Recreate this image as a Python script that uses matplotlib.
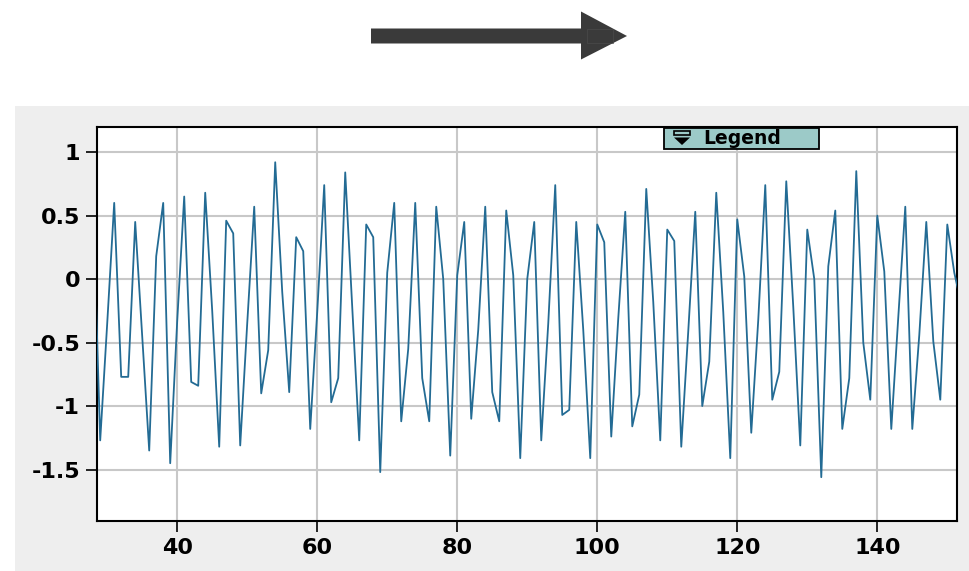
import matplotlib
matplotlib.use("Agg")
import matplotlib.pyplot as plt
from matplotlib.patches import Rectangle, Polygon

x_values = list(range(28, 153))
y_values = [
    0.55, -1.27, -0.35, 0.60, -0.77, -0.77, 0.45, -0.45, -1.35, 0.18,   # 28-37
    0.60, -1.45, -0.33, 0.65, -0.81, -0.84, 0.68, -0.25, -1.32, 0.46,   # 38-47
    0.36, -1.31, -0.35, 0.57, -0.90, -0.56, 0.92, -0.10, -0.89, 0.33,   # 48-57
    0.22, -1.18, -0.26, 0.74, -0.97, -0.78, 0.84, -0.22, -1.27, 0.43,   # 58-67
    0.33, -1.52, 0.05, 0.60, -1.12, -0.55, 0.60, -0.78, -1.12, 0.57,    # 68-77
    0.00, -1.39, 0.03, 0.45, -1.10, -0.40, 0.57, -0.89, -1.12, 0.54,    # 78-87
    0.03, -1.41, 0.00, 0.45, -1.27, -0.35, 0.74, -1.07, -1.03, 0.45,    # 88-97
    -0.40, -1.41, 0.43, 0.29, -1.24, -0.31, 0.53, -1.16, -0.91, 0.71,   # 98-107
    -0.18, -1.27, 0.39, 0.30, -1.32, -0.41, 0.53, -1.00, -0.65, 0.68,   # 108-117
    -0.26, -1.41, 0.47, 0.02, -1.21, -0.32, 0.74, -0.95, -0.73, 0.77,   # 118-127
    -0.22, -1.31, 0.39, 0.00, -1.56, 0.10, 0.54, -1.18, -0.78, 0.85,    # 128-137
    -0.50, -0.95, 0.50, 0.06, -1.18, -0.30, 0.57, -1.18, -0.44, 0.45,   # 138-147
    -0.49, -0.95, 0.43, 0.05, -0.20,                                    # 148-152
]
x_ticks = [40, 60, 80, 100, 120, 140]
y_ticks = [-1.5, -1, -0.5, 0, 0.5, 1]
y_tick_labels = ["-1.5", "-1", "-0.5", "0", "0.5", "1"]
legend_title = "Legend"

W, H = 969, 571
fig = plt.figure(figsize=(W / 100, H / 100), dpi=100)
fig.patch.set_facecolor("white")

def fx(px):
    return px / W

def fy(py):
    return 1 - py / H

# grey panel
fig.patches.append(Rectangle((fx(15), fy(571)), fx(969) - fx(15), fy(106) - fy(571),
                             transform=fig.transFigure, facecolor="#eeeeee",
                             edgecolor="none", zorder=0))

# arrow
arrow_pts = [(371, 28.5), (581, 28.5), (581, 11.5), (627, 36), (581, 59.5), (581, 43.5), (371, 43.5)]
fig.patches.append(Polygon([(fx(a), fy(b)) for a, b in arrow_pts], closed=True,
                           transform=fig.transFigure, facecolor="#3a3a3a",
                           edgecolor="none", zorder=1))
fig.patches.append(Rectangle((fx(587), fy(43)), fx(613) - fx(587), fy(28.5) - fy(43),
                             transform=fig.transFigure, facecolor="none",
                             edgecolor="#4a4a4a", lw=0.5, zorder=1.5))

left, right, top, bottom = 96.7, 957.3, 126.7, 521.0
ax = fig.add_axes([fx(left), fy(bottom), fx(right) - fx(left), fy(top) - fy(bottom)])
ax.set_zorder(2)
ax.set_facecolor("white")
ax.plot(x_values, y_values, color="#236b94", lw=1.3, zorder=3)
ax.set_xlim(28.5, 151.43)
ax.set_ylim(-1.905, 1.2)
ax.set_xticks(x_ticks)
ax.set_xticklabels([str(v) for v in x_ticks])
ax.set_yticks(y_ticks)
ax.set_yticklabels(y_tick_labels)
ax.grid(True, color="#c8c8c8", lw=1.5, zorder=1)
ax.set_axisbelow(True)
for s in ax.spines.values():
    s.set_linewidth(1.5)
    s.set_color("black")
ax.tick_params(axis="both", direction="out", length=7.7, width=1.2, color="black",
               labelsize=16)
ax.tick_params(axis="y", pad=4.3)
ax.tick_params(axis="x", pad=4.5)
for lab in ax.get_xticklabels() + ax.get_yticklabels():
    lab.set_fontweight("bold")

# legend header box
fig.patches.append(Rectangle((fx(664), fy(149)), fx(819) - fx(664), fy(128) - fy(149),
                             transform=fig.transFigure, facecolor="#9ccac8",
                             edgecolor="black", lw=1.3, zorder=5))
fig.patches.append(Rectangle((fx(674), fy(135)), fx(690) - fx(674), fy(130.5) - fy(135),
                             transform=fig.transFigure, facecolor="none",
                             edgecolor="black", lw=1.2, zorder=6))
fig.patches.append(Polygon([(fx(674), fy(137.5)), (fx(690), fy(137.5)), (fx(682), fy(145))],
                           closed=True, transform=fig.transFigure, facecolor="black",
                           edgecolor="none", zorder=6))
fig.text(fx(703), fy(139), legend_title, fontsize=13.5, fontweight="bold",
         ha="left", va="center", zorder=7)

fig.savefig("out.png", dpi=100)
